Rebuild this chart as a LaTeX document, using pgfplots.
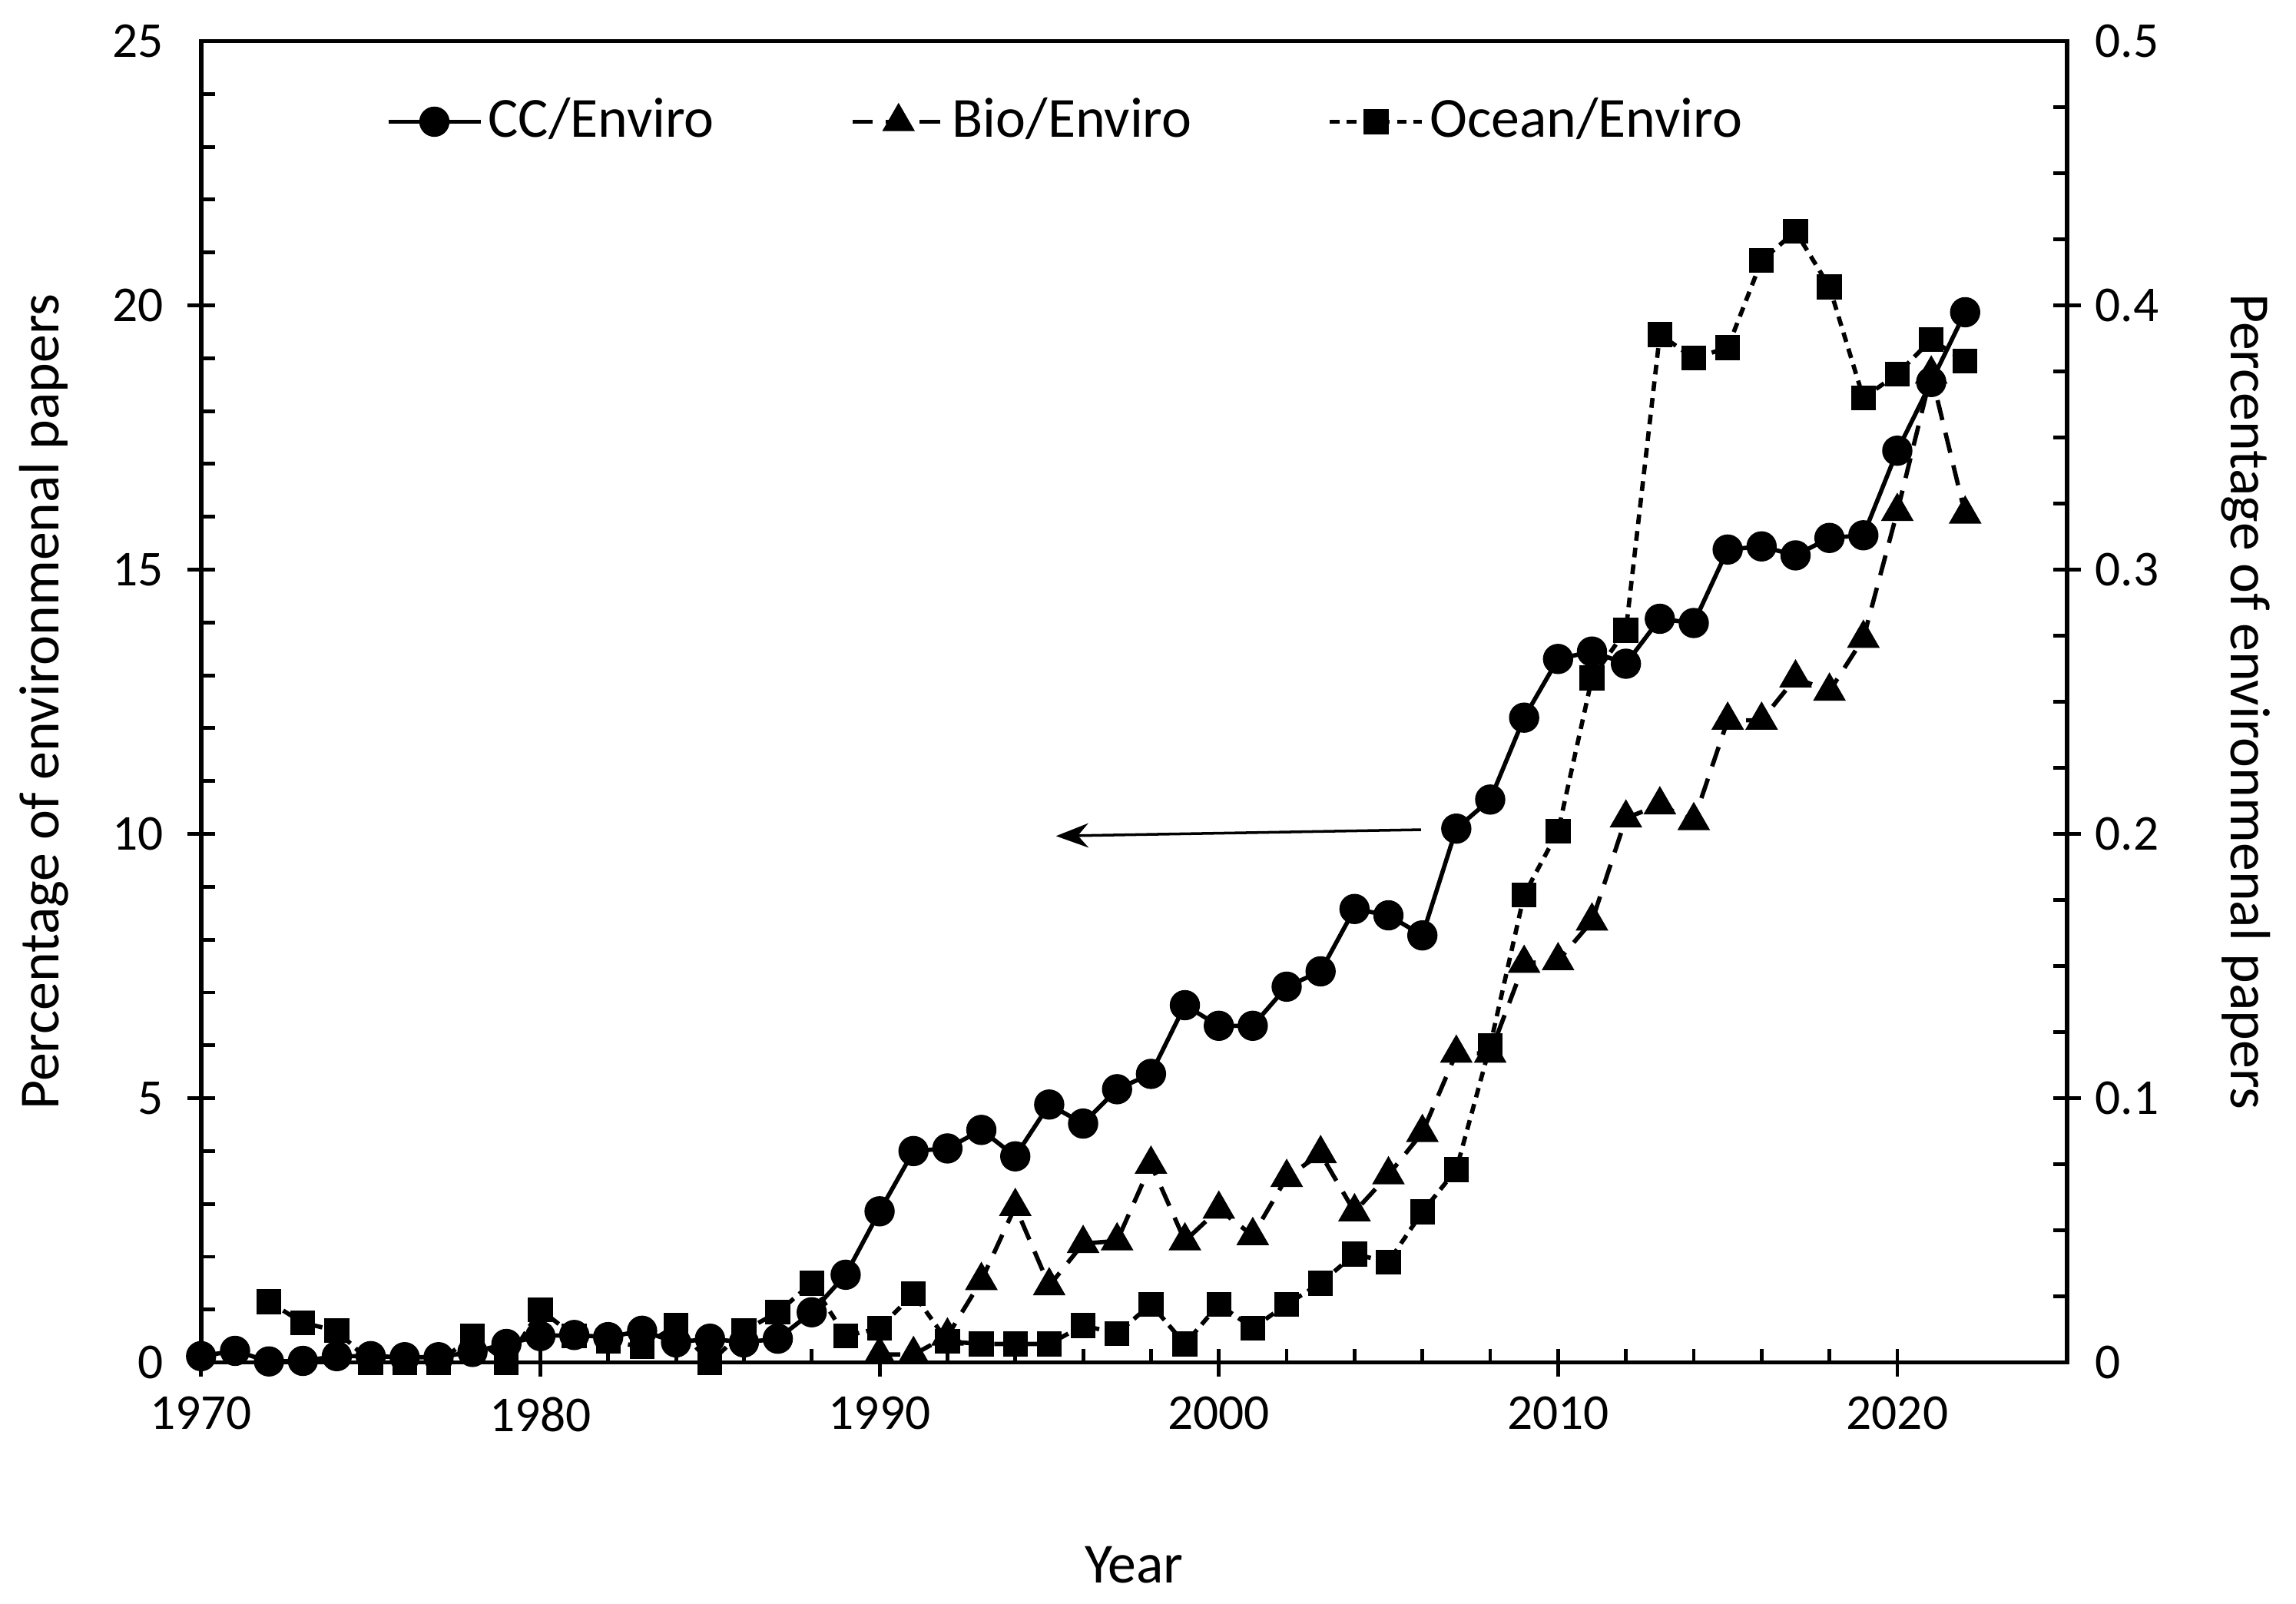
\documentclass[border=0pt]{standalone}
\usepackage{pgfplots}
\pgfplotsset{compat=1.18}
\usepackage{fontspec}
\setmainfont{Carlito}[Numbers=Lining]
\usetikzlibrary{calc,arrows.meta}

\pgfplotsset{
  base/.style={
    scale only axis, width=12.144cm, height=8.6cm,
    xmin=1970, xmax=2025,
    xtick={1970,1980,...,2020}, minor x tick num=4,
    tick align=inside,
    major tick length=0.09cm, minor tick length=0.09cm,
    every tick/.style={black, line width=0.7pt},
    axis line style={line width=0.8pt},
    tick label style={font=\fontsize{9.3}{11}\selectfont},
    label style={font=\fontsize{10.5}{12}\selectfont},
    /pgf/number format/assume math mode=true,
    /pgf/number format/1000 sep={},
  },
  ccstyle/.style={black, solid, line width=0.8pt, mark=*, mark size=2.4pt},
  biostyle/.style={black, line width=0.8pt, dash pattern=on 3.8pt off 2.4pt,
    mark=triangle*, mark size=2.7pt, mark options={solid}},
  oceanstyle/.style={black, line width=0.8pt, dash pattern=on 1.8pt off 1.3pt,
    mark=square*, mark size=1.9pt, mark options={solid}},
}

\begin{document}
\begin{tikzpicture}
% outer halves of the major ticks
\begin{axis}[base,
  ymin=0, ymax=25, ytick={5,10,15,20}, minor x tick num=0,
  tick align=outside, xtick pos=bottom, ytick pos=both,
  xticklabels={}, yticklabels={},
  axis line style={draw=none},
]
\addplot[draw=none] coordinates {(1970,0)};
\end{axis}

\begin{axis}[base, name=main,
  ymin=0, ymax=25, ytick={0,5,...,25}, minor y tick num=4,
  xtick pos=bottom, ytick pos=left,
  xticklabel style={yshift=-0.1cm},
  yticklabel style={xshift=-0.12cm},
  xlabel={Year},
  xlabel style={at={(axis description cs:0.5,-0.153)}, anchor=center},
  ylabel={Percentage of environmenal papers},
  ylabel style={at={(axis description cs:-0.0842,0.5)}, anchor=center},
]
% CC/Enviro, left axis
\addplot[ccstyle] table {
1970 0.12
1971 0.22
1972 0.02
1973 0.03
1974 0.12
1975 0.12
1976 0.10
1977 0.10
1978 0.20
1979 0.35
1980 0.50
1981 0.52
1982 0.48
1983 0.60
1984 0.38
1985 0.45
1986 0.38
1987 0.45
1988 0.95
1989 1.66
1990 2.86
1991 4.00
1992 4.05
1993 4.40
1994 3.90
1995 4.88
1996 4.52
1997 5.17
1998 5.46
1999 6.76
2000 6.37
2001 6.37
2002 7.11
2003 7.40
2004 8.58
2005 8.46
2006 8.08
2007 10.10
2008 10.65
2009 12.20
2010 13.31
2011 13.45
2012 13.22
2013 14.07
2014 13.99
2015 15.38
2016 15.44
2017 15.27
2018 15.60
2019 15.65
2020 17.25
2021 18.55
2022 19.87
};
\draw[line width=0.5pt, -{Stealth[length=6pt,width=4.5pt]}]
  (axis cs:2005.96,10.08) -- (axis cs:1995.2,9.96);
\end{axis}

\begin{axis}[base,
  ymin=0, ymax=0.5, ytick={0,0.1,0.2,0.3,0.4,0.5}, minor y tick num=3,
  axis y line*=right, axis x line=none, xticklabels={},
  yticklabel style={xshift=0.06cm, /pgf/number format/fixed,
    /pgf/number format/precision=1},
  ylabel={Percentage of environmenal papers},
  ylabel style={rotate=180, at={(axis description cs:1.0958,0.5)}, anchor=center},
  legend columns=3,
  legend style={draw=none, fill=none, at={(axis description cs:0.464,0.939)},
    anchor=center, font=\fontsize{10.5}{12}\selectfont,
    nodes={inner xsep=1pt},
    /tikz/every even column/.append style={column sep=0.85cm}},
]
\addlegendimage{ccstyle}
\addlegendentry{CC/Enviro}
% Bio/Enviro, right axis
\addplot[biostyle] table {
1990 0.003
1991 0.003
1992 0.010
1993 0.031
1994 0.059
1995 0.029
1996 0.045
1997 0.046
1998 0.075
1999 0.046
2000 0.058
2001 0.048
2002 0.070
2003 0.079
2004 0.057
2005 0.071
2006 0.087
2007 0.117
2008 0.117
2009 0.151
2010 0.152
2011 0.167
2012 0.206
2013 0.211
2014 0.205
2015 0.243
2016 0.243
2017 0.259
2018 0.254
2019 0.274
2020 0.322
2021 0.374
2022 0.321
};
\addlegendentry{Bio/Enviro}
% Ocean/Enviro, right axis
\addplot[oceanstyle] table {
1972 0.023
1973 0.015
1974 0.012
1975 0.000
1976 0.000
1977 0.000
1978 0.010
1979 0.000
1980 0.020
1981 0.010
1982 0.008
1983 0.006
1984 0.014
1985 0.000
1986 0.012
1987 0.019
1988 0.030
1989 0.010
1990 0.013
1991 0.026
1992 0.008
1993 0.007
1994 0.007
1995 0.007
1996 0.014
1997 0.011
1998 0.022
1999 0.007
2000 0.022
2001 0.013
2002 0.022
2003 0.030
2004 0.041
2005 0.038
2006 0.057
2007 0.073
2008 0.120
2009 0.177
2010 0.201
2011 0.259
2012 0.277
2013 0.389
2014 0.380
2015 0.384
2016 0.417
2017 0.428
2018 0.407
2019 0.365
2020 0.374
2021 0.387
2022 0.379
};
\addlegendentry{Ocean/Enviro}
\end{axis}
\pgfresetboundingbox
\path ($(main.south west)+(-1.309cm,-1.567cm)$) rectangle ($(main.north east)+(1.491cm,0.2675cm)$);
\end{tikzpicture}
\end{document}
